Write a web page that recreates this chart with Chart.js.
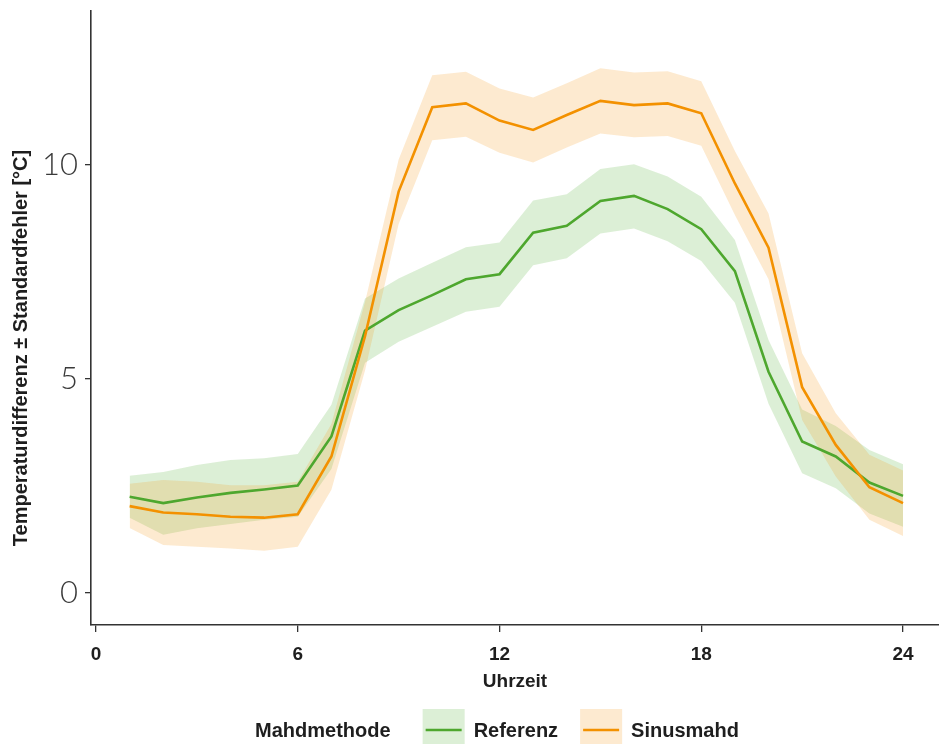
<!DOCTYPE html>
<html>
<head>
<meta charset="utf-8">
<script src="https://cdn.jsdelivr.net/npm/chart.js@4.4.1/dist/chart.umd.min.js"></script>
<style>
  html, body { margin: 0; padding: 0; background: #fff; }
</style>
</head>
<body>
<canvas id="myChart" width="939" height="744"></canvas>
<script>
// Daten
const stunden = [1, 2, 3, 4, 5, 6, 7, 8, 9, 10, 11, 12, 13, 14, 15, 16, 17, 18, 19, 20, 21, 22, 23, 24];

const referenzMittel = [2.25, 2.10, 2.23, 2.34, 2.42, 2.51, 3.66, 6.13, 6.61, 6.96, 7.33, 7.45, 8.42, 8.58, 9.16, 9.28, 8.97, 8.50, 7.52, 5.17, 3.54, 3.19, 2.58, 2.27];
const referenzOben  = [2.74, 2.83, 2.99, 3.11, 3.15, 3.25, 4.40, 6.88, 7.35, 7.72, 8.08, 8.19, 9.17, 9.32, 9.91, 10.02, 9.73, 9.26, 8.25, 5.91, 4.29, 3.90, 3.34, 3.01];
const referenzUnten = [1.76, 1.36, 1.51, 1.61, 1.71, 1.78, 2.90, 5.38, 5.87, 6.22, 6.57, 6.69, 7.66, 7.82, 8.40, 8.52, 8.22, 7.76, 6.78, 4.42, 2.80, 2.45, 1.86, 1.55];

const sinusMittel = [2.03, 1.88, 1.84, 1.78, 1.76, 1.84, 3.19, 6.00, 9.38, 11.35, 11.44, 11.04, 10.82, 11.17, 11.50, 11.40, 11.44, 11.21, 9.57, 8.07, 4.81, 3.46, 2.47, 2.10];
const sinusOben  = [2.55, 2.64, 2.60, 2.52, 2.52, 2.60, 3.95, 6.80, 10.13, 12.10, 12.18, 11.79, 11.58, 11.91, 12.26, 12.16, 12.19, 11.96, 10.33, 8.87, 5.60, 4.20, 3.23, 2.86];
const sinusUnten = [1.52, 1.12, 1.08, 1.04, 0.99, 1.08, 2.41, 5.20, 8.62, 10.58, 10.66, 10.29, 10.06, 10.41, 10.74, 10.65, 10.68, 10.45, 8.83, 7.33, 4.04, 2.72, 1.71, 1.33];

const xTicks = [0, 6, 12, 18, 24];
const yTicks = [0, 5, 10];

const legendTitel = 'Mahdmethode';
const yTitel = 'Temperaturdifferenz ± Standardfehler [°C]';

// Farben
const gruen = '#4ea72e';
const gruenFlaeche = 'rgba(95, 180, 70, 0.22)';
const orange = '#f39100';
const orangeFlaeche = 'rgba(245, 150, 20, 0.2)';
const schrift = '"Liberation Sans", Arial, sans-serif';

const punkte = (werte) => stunden.map((h, i) => ({ x: h, y: werte[i] }));

// Band: untere Kante + obere Kante mit Fuellung bis zur unteren
const bandUnten = (werte, order) => ({
  data: punkte(werte), borderWidth: 0, pointRadius: 0, fill: false, order: order, isBand: true
});
const bandOben = (werte, farbe, order) => ({
  data: punkte(werte), borderWidth: 0, pointRadius: 0, fill: '-1', backgroundColor: farbe, order: order, isBand: true
});
const linie = (label, werte, farbe, flaeche, order) => ({
  label: label, data: punkte(werte), borderColor: farbe, backgroundColor: flaeche,
  borderWidth: 2.6, pointRadius: 0, fill: false, tension: 0, order: order
});

// Legende unten + y-Achsentitel
const legendePlugin = {
  id: 'legende',
  afterDraw(chart) {
    const ctx = chart.ctx;
    const linien = chart.data.datasets.filter(d => !d.isBand);
    const y = 731;
    ctx.save();
    ctx.font = 'bold 20px ' + schrift;
    ctx.textBaseline = 'middle';
    ctx.fillStyle = '#1e1e1e';

    // y-Titel
    ctx.save();
    ctx.translate(21, 348);
    ctx.rotate(-Math.PI / 2);
    ctx.textAlign = 'center';
    ctx.fillText(yTitel, 0, 0);
    ctx.restore();

    const titelBreite = ctx.measureText(legendTitel).width;
    const breiten = linien.map(d => ctx.measureText(d.label).width);
    const gesamt = titelBreite + 32 + breiten.reduce((s, b) => s + 42 + 9 + b, 0) + 22 * (linien.length - 1);
    let x = 497 - gesamt / 2;
    ctx.fillText(legendTitel, x, y);
    x += titelBreite + 32;
    linien.forEach((d, i) => {
      ctx.fillStyle = d.backgroundColor;
      ctx.fillRect(x, 709, 42, 42);
      ctx.strokeStyle = d.borderColor;
      ctx.lineWidth = 2.6;
      ctx.beginPath();
      ctx.moveTo(x + 3, 730);
      ctx.lineTo(x + 39, 730);
      ctx.stroke();
      x += 42 + 9;
      ctx.fillStyle = '#1e1e1e';
      ctx.fillText(d.label, x, y);
      x += breiten[i] + 22;
    });
    ctx.restore();
  }
};

const ctx = document.getElementById('myChart').getContext('2d');
const myChart = new Chart(ctx, {
  type: 'line',
  data: {
    datasets: [
      bandUnten(referenzUnten, 5),
      bandOben(referenzOben, gruenFlaeche, 5),
      bandUnten(sinusUnten, 4),
      bandOben(sinusOben, orangeFlaeche, 4),
      linie('Referenz', referenzMittel, gruen, gruenFlaeche, 1),
      linie('Sinusmahd', sinusMittel, orange, orangeFlaeche, 0)
    ]
  },
  options: {
    responsive: false,
    animation: false,
    layout: { padding: { top: 11, right: 0, bottom: 44, left: 0 } },
    plugins: {
      legend: { display: false },
      tooltip: { enabled: false }
    },
    scales: {
      x: {
        type: 'linear',
        min: -0.149,
        max: 25.07,
        afterBuildTicks: (s) => { s.ticks = xTicks.map(v => ({ value: v })); },
        afterFit: (s) => { s.height = 75; s.paddingLeft = 0; s.paddingRight = 0; },
        grid: { display: true, drawOnChartArea: false, drawTicks: true, tickLength: 7, color: '#333', lineWidth: 1.3 },
        border: { display: true, color: '#333', width: 1.6 },
        ticks: { color: '#1e1e1e', font: { family: schrift, weight: 'bold', size: 19 }, padding: 11, maxRotation: 0 },
        title: { display: true, text: 'Uhrzeit', color: '#1e1e1e', font: { family: schrift, weight: 'bold', size: 19 }, padding: { top: 0, bottom: 7 } }
      },
      y: {
        min: -0.748,
        max: 13.6,
        afterBuildTicks: (s) => { s.ticks = yTicks.map(v => ({ value: v })); },
        afterFit: (s) => { s.width = 91; s.paddingTop = 0; s.paddingBottom = 0; },
        grid: { display: true, drawOnChartArea: false, drawTicks: true, tickLength: 6, color: '#333', lineWidth: 1.3 },
        border: { display: true, color: '#333', width: 1.6 },
        ticks: { color: '#3a3a3a', font: { family: 'Lato', weight: 300, size: 31 }, padding: 7 }
      }
    }
  },
  plugins: [legendePlugin]
});
</script>
</body>
</html>
